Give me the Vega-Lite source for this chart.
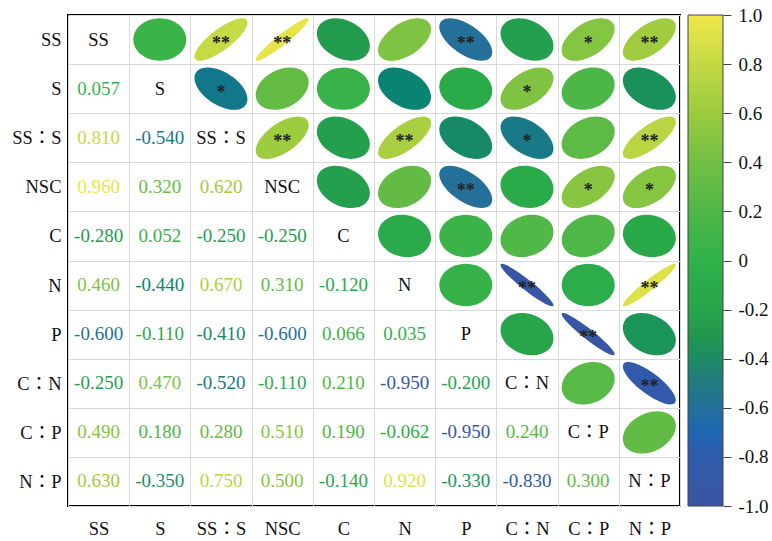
{
  "$schema": "https://vega.github.io/schema/vega-lite/v6.json",
  "background": "#ffffff",
  "autosize": {"type": "pad"},
  "padding": {"left": 10, "top": 5, "right": 5, "bottom": 5},
  "spacing": 8,
  "bounds": "flush",
  "datasets": {
    "vars": [
      {"v": "SS"}, {"v": "S"}, {"v": "SS：S"}, {"v": "NSC"}, {"v": "C"},
      {"v": "N"}, {"v": "P"}, {"v": "C：N"}, {"v": "C：P"}, {"v": "N：P"}
    ],
    "pairs": [
      {"row": "S", "col": "SS", "r": 0.057, "sig": ""},
      {"row": "SS：S", "col": "SS", "r": 0.81, "sig": "**"},
      {"row": "SS：S", "col": "S", "r": -0.54, "sig": "*"},
      {"row": "NSC", "col": "SS", "r": 0.96, "sig": "**"},
      {"row": "NSC", "col": "S", "r": 0.32, "sig": ""},
      {"row": "NSC", "col": "SS：S", "r": 0.62, "sig": "**"},
      {"row": "C", "col": "SS", "r": -0.28, "sig": ""},
      {"row": "C", "col": "S", "r": 0.052, "sig": ""},
      {"row": "C", "col": "SS：S", "r": -0.25, "sig": ""},
      {"row": "C", "col": "NSC", "r": -0.25, "sig": ""},
      {"row": "N", "col": "SS", "r": 0.46, "sig": ""},
      {"row": "N", "col": "S", "r": -0.44, "sig": ""},
      {"row": "N", "col": "SS：S", "r": 0.67, "sig": "**"},
      {"row": "N", "col": "NSC", "r": 0.31, "sig": ""},
      {"row": "N", "col": "C", "r": -0.12, "sig": ""},
      {"row": "P", "col": "SS", "r": -0.6, "sig": "**"},
      {"row": "P", "col": "S", "r": -0.11, "sig": ""},
      {"row": "P", "col": "SS：S", "r": -0.41, "sig": ""},
      {"row": "P", "col": "NSC", "r": -0.6, "sig": "**"},
      {"row": "P", "col": "C", "r": 0.066, "sig": ""},
      {"row": "P", "col": "N", "r": 0.035, "sig": ""},
      {"row": "C：N", "col": "SS", "r": -0.25, "sig": ""},
      {"row": "C：N", "col": "S", "r": 0.47, "sig": "*"},
      {"row": "C：N", "col": "SS：S", "r": -0.52, "sig": "*"},
      {"row": "C：N", "col": "NSC", "r": -0.11, "sig": ""},
      {"row": "C：N", "col": "C", "r": 0.21, "sig": ""},
      {"row": "C：N", "col": "N", "r": -0.95, "sig": "**"},
      {"row": "C：N", "col": "P", "r": -0.2, "sig": ""},
      {"row": "C：P", "col": "SS", "r": 0.49, "sig": "*"},
      {"row": "C：P", "col": "S", "r": 0.18, "sig": ""},
      {"row": "C：P", "col": "SS：S", "r": 0.28, "sig": ""},
      {"row": "C：P", "col": "NSC", "r": 0.51, "sig": "*"},
      {"row": "C：P", "col": "C", "r": 0.19, "sig": ""},
      {"row": "C：P", "col": "N", "r": -0.062, "sig": ""},
      {"row": "C：P", "col": "P", "r": -0.95, "sig": "**"},
      {"row": "C：P", "col": "C：N", "r": 0.24, "sig": ""},
      {"row": "N：P", "col": "SS", "r": 0.63, "sig": "**"},
      {"row": "N：P", "col": "S", "r": -0.35, "sig": ""},
      {"row": "N：P", "col": "SS：S", "r": 0.75, "sig": "**"},
      {"row": "N：P", "col": "NSC", "r": 0.5, "sig": "*"},
      {"row": "N：P", "col": "C", "r": -0.14, "sig": ""},
      {"row": "N：P", "col": "N", "r": 0.92, "sig": "**"},
      {"row": "N：P", "col": "P", "r": -0.33, "sig": ""},
      {"row": "N：P", "col": "C：N", "r": -0.83, "sig": "**"},
      {"row": "N：P", "col": "C：P", "r": 0.3, "sig": ""}
    ]
  },
  "hconcat": [
    {
      "width": 612,
      "height": 491,
      "layer": [
        {
          "data": {"name": "pairs"},
          "mark": {"type": "point", "filled": true, "opacity": 1, "size": 2809, "strokeWidth": 0},
          "encoding": {
            "x": {"field": "row", "type": "nominal", "scale": {"domain": ["SS", "S", "SS：S", "NSC", "C", "N", "P", "C：N", "C：P", "N：P"], "paddingInner": 0, "paddingOuter": 0}, "axis": {"title": null, "orient": "bottom", "grid": true, "tickBand": "extent", "labelPadding": 13}},
            "y": {"field": "col", "type": "nominal", "scale": {"domain": ["SS", "S", "SS：S", "NSC", "C", "N", "P", "C：N", "C：P", "N：P"], "paddingInner": 0, "paddingOuter": 0}, "axis": {"title": null, "grid": true, "tickBand": "extent", "labelPadding": 7}},
            "color": {
              "field": "r", "type": "quantitative", "legend": null,
              "scale": {"domain": [-1, -0.8, -0.7, -0.6, -0.5, -0.4, -0.3, -0.2, 0, 0.2, 0.4, 0.6, 0.8, 1],
                        "range": ["#3a55a4", "#2f5bab", "#1f66b2", "#24709a", "#217a80", "#1e8a64", "#21984f", "#28a54a", "#30b14a", "#4fb747", "#72bf44", "#9acb3f", "#c4d943", "#efe84a"]}
            },
            "shape": {
              "field": "r", "type": "nominal", "legend": null,
              "scale": {
                "domain": [0.057, 0.81, 0.96, -0.28, 0.46, -0.6, -0.25, 0.49, 0.63, -0.54, 0.32, 0.052, -0.44, -0.11, 0.47, 0.18, -0.35, 0.62, 0.67, -0.41, -0.52, 0.28, 0.75, 0.31, 0.51, 0.5, -0.12, 0.066, 0.21, 0.19, -0.14, 0.035, -0.95, -0.062, 0.92, -0.2, -0.33, 0.24, -0.83, 0.3],
                "range": [
                  "M0.707,-0.566C0.317,-0.878 -0.317,-0.878 -0.707,-0.566C-1.098,-0.253 -1.098,0.253 -0.707,0.566C-0.317,0.878 0.317,0.878 0.707,0.566C1.098,0.253 1.098,-0.253 0.707,-0.566Z",
                  "M0.949,-0.759C0.774,-0.899 0.208,-0.672 -0.316,-0.253C-0.840,0.166 -1.123,0.619 -0.949,0.759C-0.774,0.899 -0.208,0.672 0.316,0.253C0.840,-0.166 1.123,-0.619 0.949,-0.759Z",
                  "M0.987,-0.790C0.900,-0.860 0.387,-0.563 -0.158,-0.126C-0.703,0.310 -1.075,0.720 -0.987,0.790C-0.900,0.860 -0.387,0.563 0.158,0.126C0.703,-0.310 1.075,-0.720 0.987,-0.790Z",
                  "M-0.806,-0.645C-0.479,-0.906 0.146,-0.830 0.592,-0.473C1.037,-0.117 1.133,0.384 0.806,0.645C0.479,0.906 -0.146,0.830 -0.592,0.473C-1.037,0.117 -1.133,-0.384 -0.806,-0.645Z",
                  "M0.866,-0.693C0.590,-0.914 -0.022,-0.783 -0.5,-0.4C-0.978,-0.017 -1.142,0.472 -0.866,0.693C-0.590,0.914 0.022,0.783 0.5,0.4C0.978,0.017 1.142,-0.472 0.866,-0.693Z",
                  "M-0.894,-0.716C-0.647,-0.913 -0.047,-0.753 0.447,-0.358C0.941,0.037 1.141,0.518 0.894,0.716C0.647,0.913 0.047,0.753 -0.447,0.358C-0.941,-0.037 -1.141,-0.518 -0.894,-0.716Z",
                  "M-0.806,-0.645C-0.479,-0.906 0.146,-0.830 0.592,-0.473C1.037,-0.117 1.133,0.384 0.806,0.645C0.479,0.906 -0.146,0.830 -0.592,0.473C-1.037,0.117 -1.133,-0.384 -0.806,-0.645Z",
                  "M0.866,-0.693C0.590,-0.914 -0.022,-0.783 -0.5,-0.4C-0.978,-0.017 -1.142,0.472 -0.866,0.693C-0.590,0.914 0.022,0.783 0.5,0.4C0.978,0.017 1.142,-0.472 0.866,-0.693Z",
                  "M0.894,-0.716C0.647,-0.913 0.047,-0.753 -0.447,-0.358C-0.941,0.037 -1.141,0.518 -0.894,0.716C-0.647,0.913 -0.047,0.753 0.447,0.358C0.941,-0.037 1.141,-0.518 0.894,-0.716Z",
                  "M-0.866,-0.693C-0.590,-0.914 0.022,-0.783 0.5,-0.4C0.978,-0.017 1.142,0.472 0.866,0.693C0.590,0.914 -0.022,0.783 -0.5,0.4C-0.978,0.017 -1.142,-0.472 -0.866,-0.693Z",
                  "M0.806,-0.645C0.479,-0.906 -0.146,-0.830 -0.592,-0.473C-1.037,-0.117 -1.133,0.384 -0.806,0.645C-0.479,0.906 0.146,0.830 0.592,0.473C1.037,0.117 1.133,-0.384 0.806,-0.645Z",
                  "M0.707,-0.566C0.317,-0.878 -0.317,-0.878 -0.707,-0.566C-1.098,-0.253 -1.098,0.253 -0.707,0.566C-0.317,0.878 0.317,0.878 0.707,0.566C1.098,0.253 1.098,-0.253 0.707,-0.566Z",
                  "M-0.837,-0.669C-0.534,-0.911 0.086,-0.808 0.548,-0.438C1.010,-0.069 1.139,0.427 0.837,0.669C0.534,0.911 -0.086,0.808 -0.548,0.438C-1.010,0.069 -1.139,-0.427 -0.837,-0.669Z",
                  "M-0.742,-0.593C-0.371,-0.890 0.261,-0.864 0.671,-0.537C1.080,-0.209 1.112,0.297 0.742,0.593C0.371,0.890 -0.261,0.864 -0.671,0.537C-1.080,0.209 -1.112,-0.297 -0.742,-0.593Z",
                  "M0.866,-0.693C0.590,-0.914 -0.022,-0.783 -0.5,-0.4C-0.978,-0.017 -1.142,0.472 -0.866,0.693C-0.590,0.914 0.022,0.783 0.5,0.4C0.978,0.017 1.142,-0.472 0.866,-0.693Z",
                  "M0.775,-0.620C0.425,-0.899 -0.205,-0.848 -0.632,-0.506C-1.060,-0.164 -1.124,0.340 -0.775,0.620C-0.425,0.899 0.205,0.848 0.632,0.506C1.060,0.164 1.124,-0.340 0.775,-0.620Z",
                  "M-0.837,-0.669C-0.534,-0.911 0.086,-0.808 0.548,-0.438C1.010,-0.069 1.139,0.427 0.837,0.669C0.534,0.911 -0.086,0.808 -0.548,0.438C-1.010,0.069 -1.139,-0.427 -0.837,-0.669Z",
                  "M0.894,-0.716C0.647,-0.913 0.047,-0.753 -0.447,-0.358C-0.941,0.037 -1.141,0.518 -0.894,0.716C-0.647,0.913 -0.047,0.753 0.447,0.358C0.941,-0.037 1.141,-0.518 0.894,-0.716Z",
                  "M0.922,-0.738C0.708,-0.909 0.122,-0.717 -0.387,-0.310C-0.896,0.098 -1.136,0.566 -0.922,0.738C-0.708,0.909 -0.122,0.717 0.387,0.310C0.896,-0.098 1.136,-0.566 0.922,-0.738Z",
                  "M-0.837,-0.669C-0.534,-0.911 0.086,-0.808 0.548,-0.438C1.010,-0.069 1.139,0.427 0.837,0.669C0.534,0.911 -0.086,0.808 -0.548,0.438C-1.010,0.069 -1.139,-0.427 -0.837,-0.669Z",
                  "M-0.866,-0.693C-0.590,-0.914 0.022,-0.783 0.5,-0.4C0.978,-0.017 1.142,0.472 0.866,0.693C0.590,0.914 -0.022,0.783 -0.5,0.4C-0.978,0.017 -1.142,-0.472 -0.866,-0.693Z",
                  "M0.806,-0.645C0.479,-0.906 -0.146,-0.830 -0.592,-0.473C-1.037,-0.117 -1.133,0.384 -0.806,0.645C-0.479,0.906 0.146,0.830 0.592,0.473C1.037,0.117 1.133,-0.384 0.806,-0.645Z",
                  "M0.935,-0.748C0.740,-0.905 0.163,-0.696 -0.354,-0.283C-0.870,0.130 -1.131,0.592 -0.935,0.748C-0.740,0.905 -0.163,0.696 0.354,0.283C0.870,-0.130 1.131,-0.592 0.935,-0.748Z",
                  "M0.806,-0.645C0.479,-0.906 -0.146,-0.830 -0.592,-0.473C-1.037,-0.117 -1.133,0.384 -0.806,0.645C-0.479,0.906 0.146,0.830 0.592,0.473C1.037,0.117 1.133,-0.384 0.806,-0.645Z",
                  "M0.866,-0.693C0.590,-0.914 -0.022,-0.783 -0.5,-0.4C-0.978,-0.017 -1.142,0.472 -0.866,0.693C-0.590,0.914 0.022,0.783 0.5,0.4C0.978,0.017 1.142,-0.472 0.866,-0.693Z",
                  "M0.866,-0.693C0.590,-0.914 -0.022,-0.783 -0.5,-0.4C-0.978,-0.017 -1.142,0.472 -0.866,0.693C-0.590,0.914 0.022,0.783 0.5,0.4C0.978,0.017 1.142,-0.472 0.866,-0.693Z",
                  "M-0.742,-0.593C-0.371,-0.890 0.261,-0.864 0.671,-0.537C1.080,-0.209 1.112,0.297 0.742,0.593C0.371,0.890 -0.261,0.864 -0.671,0.537C-1.080,0.209 -1.112,-0.297 -0.742,-0.593Z",
                  "M0.707,-0.566C0.317,-0.878 -0.317,-0.878 -0.707,-0.566C-1.098,-0.253 -1.098,0.253 -0.707,0.566C-0.317,0.878 0.317,0.878 0.707,0.566C1.098,0.253 1.098,-0.253 0.707,-0.566Z",
                  "M0.775,-0.620C0.425,-0.899 -0.205,-0.848 -0.632,-0.506C-1.060,-0.164 -1.124,0.340 -0.775,0.620C-0.425,0.899 0.205,0.848 0.632,0.506C1.060,0.164 1.124,-0.340 0.775,-0.620Z",
                  "M0.775,-0.620C0.425,-0.899 -0.205,-0.848 -0.632,-0.506C-1.060,-0.164 -1.124,0.340 -0.775,0.620C-0.425,0.899 0.205,0.848 0.632,0.506C1.060,0.164 1.124,-0.340 0.775,-0.620Z",
                  "M-0.742,-0.593C-0.371,-0.890 0.261,-0.864 0.671,-0.537C1.080,-0.209 1.112,0.297 0.742,0.593C0.371,0.890 -0.261,0.864 -0.671,0.537C-1.080,0.209 -1.112,-0.297 -0.742,-0.593Z",
                  "M0.707,-0.566C0.317,-0.878 -0.317,-0.878 -0.707,-0.566C-1.098,-0.253 -1.098,0.253 -0.707,0.566C-0.317,0.878 0.317,0.878 0.707,0.566C1.098,0.253 1.098,-0.253 0.707,-0.566Z",
                  "M-0.987,-0.790C-0.900,-0.860 -0.387,-0.563 0.158,-0.126C0.703,0.310 1.075,0.720 0.987,0.790C0.900,0.860 0.387,0.563 -0.158,0.126C-0.703,-0.310 -1.075,-0.720 -0.987,-0.790Z",
                  "M0.707,-0.566C0.317,-0.878 -0.317,-0.878 -0.707,-0.566C-1.098,-0.253 -1.098,0.253 -0.707,0.566C-0.317,0.878 0.317,0.878 0.707,0.566C1.098,0.253 1.098,-0.253 0.707,-0.566Z",
                  "M0.987,-0.790C0.900,-0.860 0.387,-0.563 -0.158,-0.126C-0.703,0.310 -1.075,0.720 -0.987,0.790C-0.900,0.860 -0.387,0.563 0.158,0.126C0.703,-0.310 1.075,-0.720 0.987,-0.790Z",
                  "M-0.775,-0.620C-0.425,-0.899 0.205,-0.848 0.632,-0.506C1.060,-0.164 1.124,0.340 0.775,0.620C0.425,0.899 -0.205,0.848 -0.632,0.506C-1.060,0.164 -1.124,-0.340 -0.775,-0.620Z",
                  "M-0.806,-0.645C-0.479,-0.906 0.146,-0.830 0.592,-0.473C1.037,-0.117 1.133,0.384 0.806,0.645C0.479,0.906 -0.146,0.830 -0.592,0.473C-1.037,0.117 -1.133,-0.384 -0.806,-0.645Z",
                  "M0.775,-0.620C0.425,-0.899 -0.205,-0.848 -0.632,-0.506C-1.060,-0.164 -1.124,0.340 -0.775,0.620C-0.425,0.899 0.205,0.848 0.632,0.506C1.060,0.164 1.124,-0.340 0.775,-0.620Z",
                  "M-0.949,-0.759C-0.774,-0.899 -0.208,-0.672 0.316,-0.253C0.840,0.166 1.123,0.619 0.949,0.759C0.774,0.899 0.208,0.672 -0.316,0.253C-0.840,-0.166 -1.123,-0.619 -0.949,-0.759Z",
                  "M0.806,-0.645C0.479,-0.906 -0.146,-0.830 -0.592,-0.473C-1.037,-0.117 -1.133,0.384 -0.806,0.645C-0.479,0.906 0.146,0.830 0.592,0.473C1.037,0.117 1.133,-0.384 0.806,-0.645Z"
                ]
              }
            }
          }
        },
        {
          "data": {"name": "pairs"},
          "mark": {"type": "text", "fontSize": 18, "fontWeight": "bold", "color": "#222222", "dy": 4},
          "encoding": {
            "x": {"field": "row", "type": "nominal"},
            "y": {"field": "col", "type": "nominal"},
            "text": {"field": "sig", "type": "nominal"}
          }
        },
        {
          "data": {"name": "pairs"},
          "mark": {"type": "text", "fontSize": 19},
          "encoding": {
            "x": {"field": "col", "type": "nominal"},
            "y": {"field": "row", "type": "nominal"},
            "text": {"field": "r", "type": "quantitative", "format": ".3f"},
            "color": {
              "field": "r", "type": "quantitative", "legend": null,
              "scale": {"domain": [-1, -0.8, -0.7, -0.6, -0.5, -0.4, -0.3, -0.2, 0, 0.2, 0.4, 0.6, 0.8, 1],
                        "range": ["#3a55a4", "#2f5bab", "#1f66b2", "#24709a", "#217a80", "#1e8a64", "#21984f", "#28a54a", "#30b14a", "#4fb747", "#72bf44", "#9acb3f", "#c4d943", "#efe84a"]}
            }
          }
        },
        {
          "data": {"name": "vars"},
          "mark": {"type": "text", "fontSize": 18.5, "color": "#111111"},
          "encoding": {
            "x": {"field": "v", "type": "nominal"},
            "y": {"field": "v", "type": "nominal"},
            "text": {"field": "v", "type": "nominal"}
          }
        }
      ]
    },
    {
      "width": 35,
      "height": 491,
      "view": {"stroke": null},
      "data": {"values": [{"lo": -1, "hi": 1}]},
      "mark": {
        "type": "rect",
        "stroke": "#444444",
        "strokeWidth": 1,
        "fill": {
          "gradient": "linear", "x1": 0, "y1": 1, "x2": 0, "y2": 0,
          "stops": [
            {"offset": 0, "color": "#3a55a4"},
            {"offset": 0.1, "color": "#2f5bab"},
            {"offset": 0.15, "color": "#1f66b2"},
            {"offset": 0.2, "color": "#24709a"},
            {"offset": 0.25, "color": "#217a80"},
            {"offset": 0.3, "color": "#1e8a64"},
            {"offset": 0.35, "color": "#21984f"},
            {"offset": 0.4, "color": "#28a54a"},
            {"offset": 0.5, "color": "#30b14a"},
            {"offset": 0.6, "color": "#4fb747"},
            {"offset": 0.7, "color": "#72bf44"},
            {"offset": 0.8, "color": "#9acb3f"},
            {"offset": 0.9, "color": "#c4d943"},
            {"offset": 1, "color": "#efe84a"}
          ]
        }
      },
      "encoding": {
        "y": {
          "field": "lo", "type": "quantitative",
          "scale": {"domain": [-1, 1], "nice": false, "zero": false},
          "axis": {
            "orient": "right", "title": null,
            "values": [1, 0.8, 0.6, 0.4, 0.2, 0, -0.2, -0.4, -0.6, -0.8, -1],
            "labelExpr": "datum.value == 0 ? '0' : format(datum.value, '.1f')",
            "grid": false, "domain": false,
            "ticks": true, "tickSize": 8, "tickColor": "#444444", "tickWidth": 1,
            "labelPadding": 7, "labelOverlap": false, "labelBound": false, "labelFlush": false,
            "labelFontSize": 19
          }
        },
        "y2": {"field": "hi"}
      }
    }
  ],
  "config": {
    "locale": {"number": {"decimal": ".", "thousands": ",", "grouping": [3], "currency": ["$", ""], "minus": "-"}},
    "font": "Liberation Serif, Noto Sans CJK JP",
    "view": {"stroke": "#000000", "strokeWidth": 2},
    "text": {"font": "Liberation Serif, Noto Sans CJK JP"},
    "axis": {
      "gridColor": "#d9d9d9",
      "gridWidth": 1,
      "domain": false,
      "ticks": false,
      "tickSize": 0,
      "labelFont": "Liberation Serif, Noto Sans CJK JP",
      "labelFontSize": 18.5,
      "labelColor": "#111111",
      "labelAngle": 0
    }
  }
}
